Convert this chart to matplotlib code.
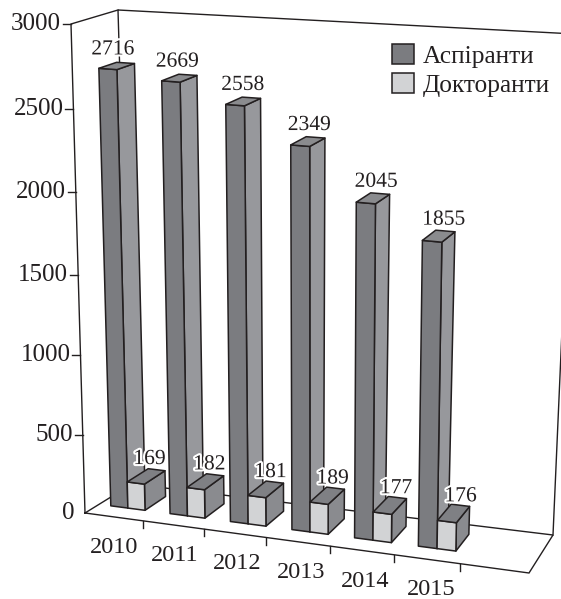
import matplotlib
matplotlib.use("Agg")

import numpy as np
import matplotlib.pyplot as plt
import matplotlib.patheffects as pe
from matplotlib.patches import Polygon, Patch

plt.rcParams["font.family"] = ["Liberation Serif", "DejaVu Serif"]

# ── data ─────────────────────────────────────────────────────────────────────
years = ["2010", "2011", "2012", "2013", "2014", "2015"]
aspirants = [2716, 2669, 2558, 2349, 2045, 1855]
doctorants = [169, 182, 181, 189, 177, 176]
value_ticks = [0, 500, 1000, 1500, 2000, 2500, 3000]
# the printed scale is not quite even, share of the wall height per tick
tick_fracs = [0, 0.159, 0.323, 0.487, 0.656, 0.827, 1]

INK = "#231f20"
ASP = {"front": "#7b7c80", "side": "#97989c", "top": "#8a8b8e"}
DOC = {"front": "#d2d3d5", "side": "#8a8b8f", "top": "#7f8084"}

# ── box corners in pixels: floor and ceiling, front and back ─────────────────
FL0, FR0 = np.array([85, 513.0]), np.array([529, 573.0])
BL0, BR0 = np.array([132, 484.0]), np.array([553, 535.0])
FL1, FR1 = np.array([71, 24.0]), np.array([540, 58.0])
BL1, BR1 = np.array([118, 10.0]), np.array([575, 34.0])


def lerp(a, b, s):
    return a + (b - a) * s


def project(u, d, v):
    # u = category position (0..7), d = depth (0..1), v = value
    t = 0.1337 * u + 0.0013 * u**2
    f = np.interp(v, value_ticks, tick_fracs)
    low = lerp(lerp(FL0, FR0, t), lerp(BL0, BR0, t), d)
    high = lerp(lerp(FL1, FR1, t), lerp(BL1, BR1, t), d)
    return lerp(low, high, f)


def draw_bar(ax, u0, u1, d0, d1, v, colors):
    faces = {
        "side": [(u1, d0, 0), (u1, d1, 0), (u1, d1, v), (u1, d0, v)],
        "front": [(u0, d0, 0), (u1, d0, 0), (u1, d0, v), (u0, d0, v)],
        "top": [(u0, d0, v), (u1, d0, v), (u1, d1, v), (u0, d1, v)],
    }
    for name, pts in faces.items():
        ax.add_patch(Polygon([project(*p) for p in pts], closed=True, fc=colors[name],
                             ec=INK, lw=1.1, joinstyle="round", zorder=3))


fig = plt.figure(figsize=(5.61, 5.99), dpi=100)
ax = fig.add_axes([0, 0, 1, 1])
ax.set_xlim(0, 561)
ax.set_ylim(599, 0)
ax.axis("off")

# ── walls and floor ──────────────────────────────────────────────────────────
for path in ([BL0, BL1, BR1, BR0], [FL0, FL1, BL1], [FL0, FR0, BR0, BL0, FL0]):
    path = np.array(path)
    ax.plot(path[:, 0], path[:, 1], color=INK, lw=1.0, solid_joinstyle="miter", zorder=1)

# ── value axis ───────────────────────────────────────────────────────────────
for val in value_ticks:
    x, y = project(0, 0, val)
    if val > 0:
        ax.plot([x - 8, x], [y, y], color=INK, lw=1.0, zorder=1)
    ax.text(x - 10, y, str(val), ha="right", va="center", fontsize=18, color=INK)

# ── year axis ────────────────────────────────────────────────────────────────
for i, year in enumerate(years):
    x, y = project(i + 1, 0, 0)
    ax.plot([x - 2, x - 2], [y, y + 7], color=INK, lw=1.0, zorder=1)
    ax.text(x - 31, y + 26, year, ha="center", va="center", fontsize=17.5, color=INK)

# ── bars ─────────────────────────────────────────────────────────────────────
halo = [pe.withStroke(linewidth=3, foreground="white")]
for i in range(len(years)):
    draw_bar(ax, i + 0.2, i + 0.49, 0.3, 0.68, aspirants[i], ASP)
    draw_bar(ax, i + 0.49, i + 0.78, 0.3, 0.76, doctorants[i], DOC)

for i in range(len(years)):
    shift = -4 + 1.8 * i
    x, y = project(i + 0.345, 0.49, aspirants[i])
    ax.text(x + shift, y - 16, str(aspirants[i]), ha="center", va="center",
            fontsize=15.5, color=INK, path_effects=halo, zorder=4)
    x, y = project(i + 0.635, 0.49, doctorants[i])
    ax.text(x + 5 + 0.6 * i, y - 18, str(doctorants[i]), ha="center", va="center",
            fontsize=15.5, color=INK, path_effects=halo, zorder=4)

# ── legend ───────────────────────────────────────────────────────────────────
handles = [Patch(fc=ASP["front"], ec=INK, lw=1.1, label="Аспіранти"),
           Patch(fc=DOC["front"], ec=INK, lw=1.1, label="Докторанти")]
ax.legend(handles=handles, loc="upper left", bbox_to_anchor=(392 / 561, 1 - 44 / 599),
          frameon=False, fontsize=18.3, labelcolor=INK, handlelength=0.85, handleheight=0.85,
          handletextpad=0.36, labelspacing=0.2, borderpad=0, borderaxespad=0)

fig.savefig("out.png", dpi=100)
plt.close(fig)
